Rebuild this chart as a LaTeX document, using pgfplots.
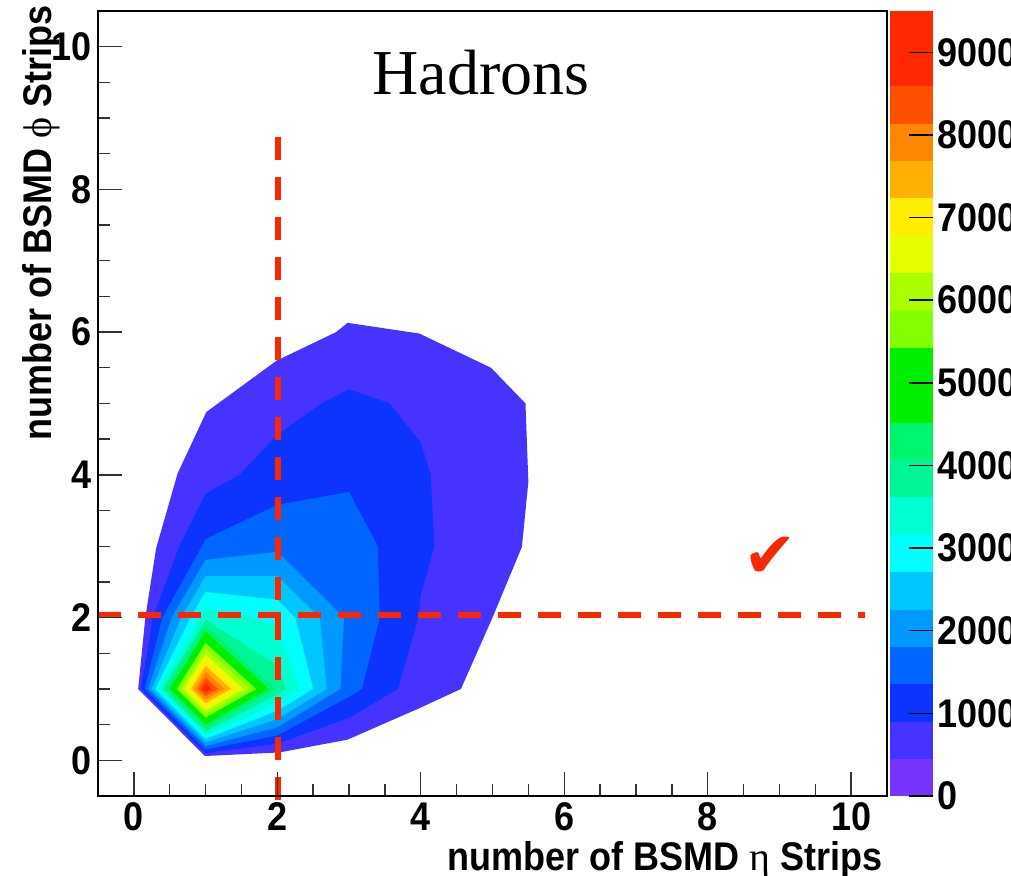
\documentclass[border=0pt]{standalone}
\usepackage{pgfplots}
\pgfplotsset{compat=1.18}
\usepackage{fontspec}
\setmainfont{Liberation Sans}[FakeStretch=0.9]
\newfontfamily\serif{Liberation Serif}
\newfontfamily\dejavu{DejaVu Sans}
\definecolor{rootred}{RGB}{250,40,0}
\definecolor{c2}{RGB}{70,51,255}
\definecolor{c3}{RGB}{13,51,255}
\definecolor{c4}{RGB}{0,102,255}
\definecolor{c5}{RGB}{0,153,255}
\definecolor{c6}{RGB}{0,200,255}
\definecolor{c7}{RGB}{0,255,255}
\definecolor{c8}{RGB}{0,255,210}
\definecolor{c9}{RGB}{0,245,150}
\definecolor{c10}{RGB}{0,245,110}
\definecolor{c11}{RGB}{0,238,0}
\definecolor{c12}{RGB}{0,238,0}
\definecolor{c13}{RGB}{130,255,0}
\definecolor{c14}{RGB}{170,255,0}
\definecolor{c15}{RGB}{230,255,0}
\definecolor{c16}{RGB}{255,238,0}
\definecolor{c17}{RGB}{255,176,0}
\definecolor{c18}{RGB}{255,136,0}
\definecolor{c19}{RGB}{255,80,0}
\definecolor{c20}{RGB}{255,40,0}
\begin{document}
\begin{tikzpicture}
\begin{axis}[
  scale only axis, width=197.25pt, height=196.25pt,
  xmin=-0.5, xmax=10.5, ymin=-0.5, ymax=10.5,
  xtick={0,2,4,6,8,10}, ytick={0,2,4,6,8,10},
  minor x tick num=3, minor y tick num=3,
  xtick pos=left, ytick pos=left, tick align=inside,
  major tick length=6pt, minor tick length=3pt,
  tick style={black!80, line width=0.35pt},
  axis line style={line width=0.5pt},
  axis on top, clip=false,
  /pgf/number format/assume math mode=true,
  ticklabel style={font=\bfseries\fontsize{10}{12}\selectfont},
  xticklabel style={inner sep=1.5pt},
  yticklabel style={inner sep=1.5pt},
  colormap={rootbar}{rgb255=(120,52,255) rgb255=(70,51,255) rgb255=(13,51,255)
    rgb255=(0,102,255) rgb255=(0,153,255) rgb255=(0,200,255) rgb255=(0,255,255)
    rgb255=(0,255,210) rgb255=(0,245,150) rgb255=(0,245,110) rgb255=(0,238,0)
    rgb255=(0,238,0) rgb255=(130,255,0) rgb255=(170,255,0) rgb255=(230,255,0)
    rgb255=(255,238,0) rgb255=(255,176,0) rgb255=(255,136,0) rgb255=(255,80,0)
    rgb255=(255,40,0) rgb255=(255,40,0)},
  colormap access=piecewise constant,
  point meta min=0, point meta max=9500,
  colorbar,
  colorbar style={
    at={(parent axis.north east)}, anchor=north west, xshift=-7.79pt,
    width=10.75pt, axis on top,
    ytick={0,1000,2000,3000,4000,5000,6000,7000,8000,9000},
    ytick pos=right, yticklabel pos=right,
    tick align=inside, major tick length=6pt,
    tick style={black, line width=0.35pt},
    axis line style={draw=none},
    scaled y ticks=false,
    /pgf/number format/assume math mode=true,
    yticklabel style={font=\bfseries\fontsize{10}{12}\selectfont,
      /pgf/number format/1000 sep={}, inner sep=1pt, anchor=west},
  },
  every axis plot/.append style={draw=none, mark=none},
]
% filled contour regions, level 475 (outermost) up to 9025 (innermost)
\addplot[fill=c2] coordinates {(0.06,1) (0.99,0.06) (2.03,0.11) (2.98,0.29) (3.98,0.73) (4.56,1) (5,2) (5.41,2.99) (5.5,3.9) (5.46,5) (4.98,5.5) (3.98,5.98) (2.98,6.13) (2.82,6) (1.99,5.6) (1.01,4.88) (0.61,4.02) (0.31,2.97) (0.16,2)} -- cycle;
\addplot[fill=c3] coordinates {(0.1,1) (1,0.1) (2,0.232) (3,0.594) (3.68,1) (3.97,2) (4,2.31) (4.19,3) (4.14,4) (4,4.45) (3.57,5) (3,5.2) (2.61,5) (2,4.56) (1.47,4) (1,3.74) (0.633,3) (0.264,2)} -- cycle;
\addplot[fill=c4] coordinates {(0.15,1) (1,0.15) (2,0.348) (3,0.891) (3.18,1) (3.43,2) (3.4,3) (3,3.76) (2,3.58) (1,3.1) (0.95,3) (0.396,2)} -- cycle;
\addplot[fill=c5] coordinates {(0.2,1) (1,0.2) (2,0.463) (2.88,1) (2.93,2) (2.55,2.38) (2,2.92) (1,2.81) (0.528,2)} -- cycle;
\addplot[fill=c6] coordinates {(0.25,1) (1,0.25) (2,0.579) (2.69,1) (2.59,2) (2,2.58) (1,2.58) (0.66,2)} -- cycle;
\addplot[fill=c7] coordinates {(0.3,1) (1,0.3) (2,0.695) (2.5,1) (2.25,2) (2,2.25) (1,2.36) (0.79,2)} -- cycle;
\addplot[fill=c8] coordinates {(0.35,1) (1,0.35) (2,0.811) (2.31,1) (2,1.86) (1.69,2) (1,2.13) (0.924,2)} -- cycle;
\addplot[fill=c9] coordinates {(0.4,1) (1,0.4) (2,0.927) (2.12,1) (2,1.33) (1,1.966)} -- cycle;
\addplot[fill=c10] coordinates {(0.45,1) (1,0.45) (1.968,1) (1,1.886)} -- cycle;
\addplot[fill=c11] coordinates {(0.5,1) (1,0.5) (1.88,1) (1,1.805)} -- cycle;
\addplot[fill=c12] coordinates {(0.55,1) (1,0.55) (1.792,1) (1,1.725)} -- cycle;
\addplot[fill=c13] coordinates {(0.6,1) (1,0.6) (1.704,1) (1,1.644)} -- cycle;
\addplot[fill=c14] coordinates {(0.65,1) (1,0.65) (1.616,1) (1,1.564)} -- cycle;
\addplot[fill=c15] coordinates {(0.7,1) (1,0.7) (1.528,1) (1,1.483)} -- cycle;
\addplot[fill=c16] coordinates {(0.75,1) (1,0.75) (1.44,1) (1,1.403)} -- cycle;
\addplot[fill=c17] coordinates {(0.8,1) (1,0.8) (1.352,1) (1,1.322)} -- cycle;
\addplot[fill=c18] coordinates {(0.85,1) (1,0.85) (1.264,1) (1,1.242)} -- cycle;
\addplot[fill=c19] coordinates {(0.9,1) (1,0.9) (1.176,1) (1,1.161)} -- cycle;
\addplot[fill=c20] coordinates {(0.95,1) (1,0.95) (1.088,1) (1,1.081)} -- cycle;
\addplot[draw=rootred, line width=1.5pt, dash pattern=on 5.75pt off 4.25pt]
  coordinates {(2.01,8.74) (2.01,-0.8)};
\addplot[draw=rootred, line width=1.5pt, dash pattern=on 5.75pt off 4.25pt]
  coordinates {(-0.5,2.03) (10.19,2.03)};
\node[font=\serif\fontsize{16}{19}\selectfont, anchor=base] at (axis cs:4.84,9.33) {Hadrons};
\node[text=rootred, font=\dejavu\fontsize{16}{16}\selectfont] at (axis cs:8.88,2.85) {✔};
\node[font=\bfseries\fontsize{10}{12}\selectfont, anchor=base east, inner sep=0pt]
  at ([xshift=-1pt,yshift=-18.75pt]rel axis cs:1,0) {number of BSMD {\serif\mdseries η} Strips};
\node[font=\bfseries\fontsize{10}{12}\selectfont, anchor=base east, rotate=90, inner sep=0pt]
  at ([xshift=-11.5pt,yshift=1.5pt]rel axis cs:0,1) {number of BSMD {\serif\mdseries ϕ} Strips};
\end{axis}
\pgfresetboundingbox
\path[use as bounding box] (-24.5pt,-20pt) rectangle (228.25pt,199pt);
\end{tikzpicture}
\end{document}
